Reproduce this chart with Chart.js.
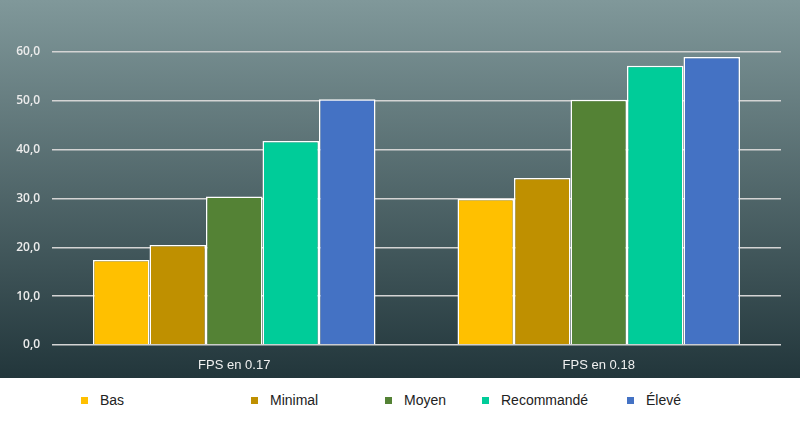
<!DOCTYPE html>
<html>
<head>
<meta charset="utf-8">
<script src="https://cdn.jsdelivr.net/npm/chart.js@4"></script>
<style>
  body { margin: 0; background: #fff; }
  #wrap { position: relative; width: 800px; height: 430px; }
  #chart { position: absolute; left: 0; top: 0; }
  #legend { position: absolute; left: 0; top: 378px; width: 800px; height: 52px; font-family: "Liberation Sans", Arial, sans-serif; font-size: 14px; color: #222; }
  .item { position: absolute; top: 14px; line-height: 16px; white-space: nowrap; }
  .box { display: inline-block; width: 7px; height: 7px; margin-right: 12px; vertical-align: 1px; }
</style>
</head>
<body>
<div id="wrap">
  <canvas id="chart" width="800" height="378"></canvas>
  <div id="legend"></div>
</div>
<script>
var versions = ["FPS en 0.17", "FPS en 0.18"];
var presets = ["Bas", "Minimal", "Moyen", "Recommandé", "Élevé"];
var bas = [17.4, 29.9];
var minimal = [20.5, 34.2];
var moyen = [30.4, 50.2];
var recommande = [41.8, 57.2];
var eleve = [50.3, 59.0];
var colors = ["#FFC000", "#BF9000", "#548235", "#00CC99", "#4472C4"];

// legend item left edges, picked to match the original layout
var legendX = [81, 251, 385, 482, 627];

var series = [bas, minimal, moyen, recommande, eleve];
var datasets = presets.map(function (name, i) {
    return {
        label: name,
        data: series[i],
        backgroundColor: colors[i],
        borderColor: "#ffffff",
        borderWidth: 1.5
    };
});

var bgPlugin = {
    id: "bg",
    beforeDraw: function (chart) {
        var ctx = chart.ctx;
        var g = ctx.createLinearGradient(0, 0, 0, chart.height);
        g.addColorStop(0, "#80989a");
        g.addColorStop(1, "#22363b");
        ctx.save();
        ctx.fillStyle = g;
        ctx.fillRect(0, 0, chart.width, chart.height);
        ctx.restore();
    }
};

var chart = new Chart("chart", {
    type: "bar",
    data: { labels: versions, datasets: datasets },
    plugins: [bgPlugin],
    options: {
        responsive: false,
        animation: false,
        layout: { padding: { top: 52, right: 19, left: 0, bottom: 0 } },
        plugins: {
            legend: { display: false },
            tooltip: { enabled: false }
        },
        datasets: { bar: { categoryPercentage: 0.775, barPercentage: 1 } },
        scales: {
            x: {
                grid: { display: false },
                border: { display: false },
                ticks: {
                    color: "#f0f0f0",
                    padding: 5,
                    font: { family: "Liberation Sans", size: 13 }
                },
                afterFit: function (s) { s.height = 33; }
            },
            y: {
                min: 0,
                max: 60,
                border: { display: false },
                grid: { color: "#d4d4d4", lineWidth: 1.5, drawTicks: false },
                ticks: {
                    stepSize: 10,
                    padding: 12,
                    color: "#ececec",
                    font: { family: "Open Sans", size: 12, weight: "600" },
                    callback: function (v) { return v.toFixed(1).replace(".", ","); }
                },
                afterFit: function (s) { s.width = 52; }
            }
        }
    }
});

var legend = document.getElementById("legend");
presets.forEach(function (name, i) {
    var el = document.createElement("div");
    el.className = "item";
    el.style.left = legendX[i] + "px";
    el.innerHTML = '<span class="box" style="background:' + colors[i] + '"></span>' + name;
    legend.appendChild(el);
});
</script>
</body>
</html>
